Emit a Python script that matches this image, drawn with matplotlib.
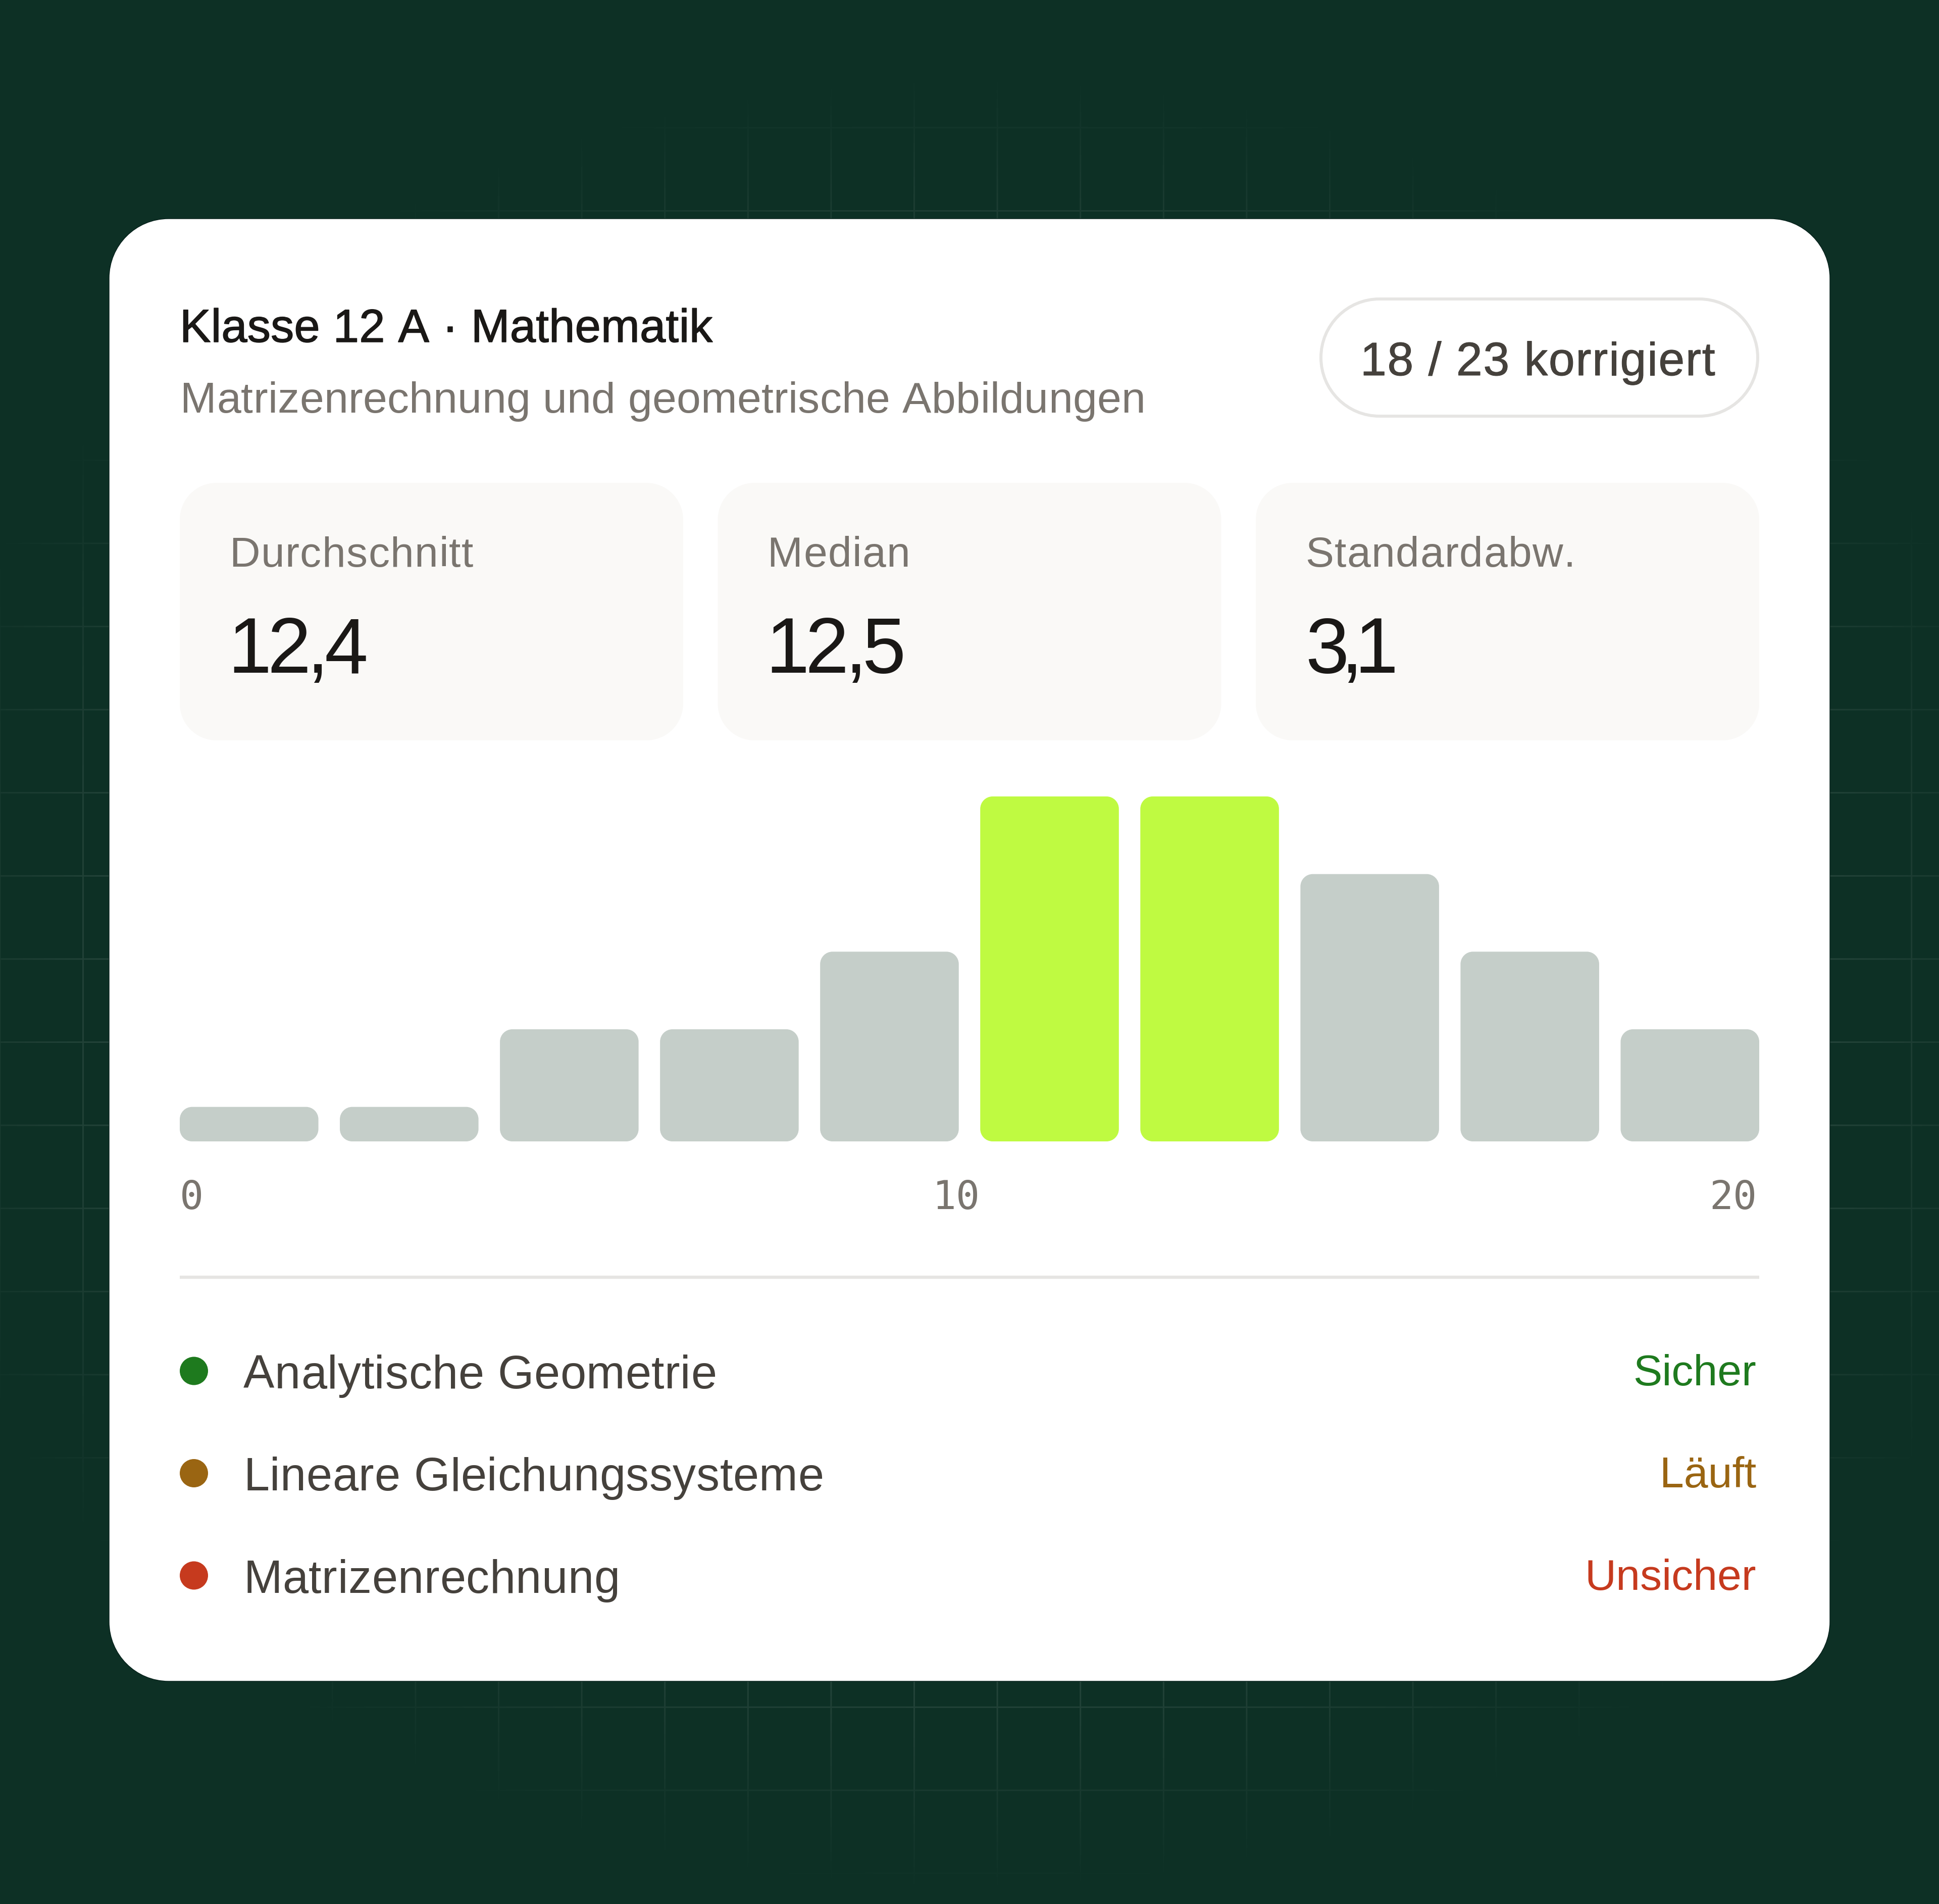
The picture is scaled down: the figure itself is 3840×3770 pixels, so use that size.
import numpy as np
import matplotlib
matplotlib.use('Agg')
import matplotlib.pyplot as plt
import matplotlib.patheffects as pe
from matplotlib.font_manager import FontProperties, findfont, get_font
from matplotlib.patches import Circle, PathPatch
from matplotlib.path import Path
from matplotlib.text import Text

W, H = 3840, 3770

# data
title = 'Klasse 12 A · Mathematik'
subtitle = 'Matrizenrechnung und geometrische Abbildungen'
badge = '18 / 23 korrigiert'
stat_names = ['Durchschnitt', 'Median', 'Standardabw.']
stat_values = ['12,4', '12,5', '3,1']
bar_heights = [10, 10, 32.5, 32.5, 55, 100, 100, 77.5, 55, 32.5]
bar_colors = ['#c5cec9'] * 5 + ['#bffa41'] * 2 + ['#c5cec9'] * 3
tick_labels = ['0', '10', '20']
topics = ['Analytische Geometrie', 'Lineare Gleichungssysteme', 'Matrizenrechnung']
states = ['Sicher', 'Läuft', 'Unsicher']
state_colors = ['#1e7a1e', '#9a6512', '#c63a1e']

BG = '#0d3025'
INK = '#1a1816'
MID = '#45413c'
MUTED = '#7a756f'
RULE = '#e6e5e3'
SANS = 'Liberation Sans'


class TrackedText(Text):
    # matplotlib has no letter spacing, so draw the string glyph by glyph
    tracking = 0

    def draw(self, renderer):
        if not self.tracking:
            return super().draw(renderer)
        s, x0, ha = self.get_text(), self.get_position()[0], self.get_ha()
        font = get_font(findfont(self.get_fontproperties()))
        font.set_size(self.get_fontsize(), self.figure.dpi)
        flags = matplotlib.ft2font.LoadFlags.NO_HINTING
        adv = [font.load_char(ord(c), flags=flags).linearHoriAdvance / 65536 + self.tracking for c in s]
        x = x0 - sum(adv) + self.tracking if ha == 'right' else x0
        self.set_ha('left')
        for ch, a in zip(s, adv):
            self.set_text(ch)
            self.set_x(x)
            super().draw(renderer)
            x += a
        self.set_text(s)
        self.set_x(x0)
        self.set_ha(ha)


def rounded(ax, x0, y0, x1, y1, rx, ry=None, **kw):
    ry = rx if ry is None else ry
    kx, ky = rx * 0.4477, ry * 0.4477
    verts = [(x0 + rx, y0), (x1 - rx, y0),
             (x1 - kx, y0), (x1, y0 + ky), (x1, y0 + ry),
             (x1, y1 - ry),
             (x1, y1 - ky), (x1 - kx, y1), (x1 - rx, y1),
             (x0 + rx, y1),
             (x0 + kx, y1), (x0, y1 - ky), (x0, y1 - ry),
             (x0, y0 + ry),
             (x0, y0 + ky), (x0 + kx, y0), (x0 + rx, y0),
             (x0 + rx, y0)]
    codes = [Path.MOVETO, Path.LINETO,
             Path.CURVE4, Path.CURVE4, Path.CURVE4,
             Path.LINETO,
             Path.CURVE4, Path.CURVE4, Path.CURVE4,
             Path.LINETO,
             Path.CURVE4, Path.CURVE4, Path.CURVE4,
             Path.LINETO,
             Path.CURVE4, Path.CURVE4, Path.CURVE4,
             Path.CLOSEPOLY]
    p = PathPatch(Path(verts, codes), **kw)
    ax.add_patch(p)
    return p


def label(x, y, s, px, color, family=SANS, ha='left', tracking=0, stroke=0):
    t = TrackedText(x, y, s, color=color, ha=ha, va='baseline', zorder=5,
                    fontproperties=FontProperties(family=family, size=px * 0.72))
    t.tracking = tracking
    if stroke:
        t.set_path_effects([pe.withStroke(linewidth=stroke, foreground=color)])
    ax.add_artist(t)
    return t


fig = plt.figure(figsize=(W / 100, H / 100), dpi=100, facecolor=BG)
ax = fig.add_axes([0, 0, 1, 1])
ax.set_xlim(0, W)
ax.set_ylim(H, 0)
ax.axis('off')

# faint grid, fades out towards the edges
yy, xx = np.mgrid[0:H, 0:W]
r = np.hypot((xx - W / 2) / 2230, (yy - 1947) / 1820)
fade = np.clip(0.42 * (1 - r), 0, 0.10)
dx = np.abs((xx - 164 + 82.3) % 164.6 - 82.3)
dy = np.abs((yy - 417 + 82.3) % 164.6 - 82.3)
lines = np.maximum(np.clip(2 - dx, 0, 1), np.clip(2 - dy, 0, 1))
grid = np.ones((H, W, 4))
grid[..., 3] = fade * lines
ax.imshow(grid, extent=(0, W, H, 0), interpolation='nearest', aspect='auto', zorder=0)
ax.set_xlim(0, W)
ax.set_ylim(H, 0)

# card
rounded(ax, 216, 433, 3624, 3329, 118, facecolor='white', edgecolor='#06201a', linewidth=1.0, zorder=1)

# header
label(356, 677, title, 92, INK, tracking=0.3, stroke=1.1)
label(357, 817, subtitle, 86, MUTED, tracking=0.3)
rounded(ax, 2616, 592, 3481, 824, 116, facecolor='white', edgecolor=RULE, linewidth=4.3, zorder=2)
label(2694, 743, badge, 93, MID, tracking=1.8, stroke=0.8)

# stat boxes
value_tracking = [-8, -8, -16]
for i in range(3):
    x0 = 356 + i * 1065.5
    rounded(ax, x0, 956, x0 + 997, 1466, 73, facecolor='#faf9f7', edgecolor='none', zorder=2)
    label(x0 + 98, 1122, stat_names[i], 84, MUTED, tracking=1.5)
    label(x0 + 95 + (3 if i == 2 else 0), 1332, stat_values[i], 155, INK, tracking=value_tracking[i])

# histogram
bar_w = 274.6 / 317.1
hist = fig.add_axes([356 / W, 1 - 2260 / H, 3128 / W, 683 / H])
hist.patch.set_alpha(0)
hist.set_xlim(-bar_w / 2, len(bar_heights) - 1 + bar_w / 2)
hist.set_ylim(0, 100)
hist.axis('off')
rx = 24.5 / 317.1
ry = 24.5 * 100 / 683
for i, h in enumerate(bar_heights):
    rounded(hist, i - bar_w / 2, 0, i + bar_w / 2, h, rx, ry, facecolor=bar_colors[i], edgecolor='none')

# axis labels sit at the ends and in the middle of the row
mono = 'DejaVu Sans Mono'
label(356, 2394, tick_labels[0], 78, MUTED, family=mono)
label(1847, 2394, tick_labels[1], 78, MUTED, family=mono)
label(3479, 2394, tick_labels[2], 78, MUTED, family=mono, ha='right')
ax.plot([356, 3484], [2529, 2529], color=RULE, lw=4.6, solid_capstyle='butt', zorder=2)

# topics
for i in range(3):
    y = 2714.5 + i * 202.5
    ax.add_patch(Circle((384, y), 28, facecolor=state_colors[i], edgecolor='none', zorder=3))
    label(482, y + 34, topics[i], 92, MID, tracking=0.6)
    label(3478, y + 28, states[i], 86, state_colors[i], ha='right')

fig.savefig('out.png', dpi=100, facecolor=BG)
